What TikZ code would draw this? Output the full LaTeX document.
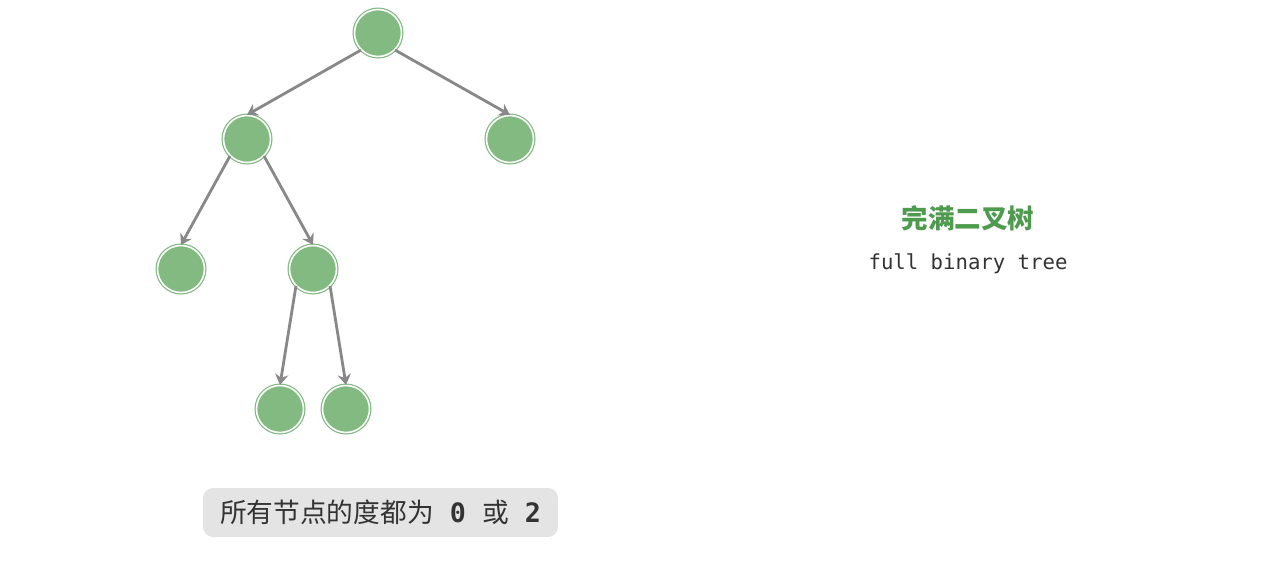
\documentclass[tikz,border=0pt]{standalone}
\usepackage{fontspec}
\setmonofont{DejaVu Sans Mono}
\newfontfamily\cjk{Noto Sans CJK SC}
\usepackage{xcolor}
\usetikzlibrary{positioning,arrows.meta}
\definecolor{nodegreen}{HTML}{82BA82}
\definecolor{titlegreen}{HTML}{4E9A4E}
\definecolor{edgegray}{HTML}{888888}
\definecolor{boxgray}{HTML}{E4E4E4}
\definecolor{txt}{HTML}{333333}

\begin{document}
\begin{tikzpicture}[x=0.02cm, y=-0.02cm,
		treenode/.style={circle, minimum size=0.94cm, inner sep=0, fill=nodegreen, draw=nodegreen, double=white, double distance=0.9pt, line width=0.7pt},
		treeedge/.style={-{Stealth[length=6pt, width=7.5pt, inset=2pt]}, edgegray, line width=1.6pt}]
	\useasboundingbox (0,0) rectangle (1280,579);
	% tree
	\node[treenode] (root) at (378,33) {};
	\node[treenode] (l) at (247,139) {};
	\node[treenode] (r) at (510,139) {};
	\node[treenode] (ll) at (181,269) {};
	\node[treenode] (lr) at (313,269) {};
	\node[treenode] (lrl) at (280,409) {};
	\node[treenode] (lrr) at (346,409) {};
	\draw[treeedge] (root.south west) -- (l.north);
	\draw[treeedge] (root.south east) -- (r.north);
	\draw[treeedge] (l.south west) -- (ll.north);
	\draw[treeedge] (l.south east) -- (lr.north);
	\draw[treeedge] (lr.south west) -- (lrl.north);
	\draw[treeedge] (lr.south east) -- (lrr.north);
	% label
	\node[fill=boxgray, rounded corners=0.2cm, minimum width=7.1cm, minimum height=0.98cm, text=txt] (degree) at (380.5,512.5)
		{\cjk\fontsize{15.2pt}{17pt}\selectfont 所有节点的度都为\texttt{\bfseries\ 0\ }或\texttt{\bfseries\ 2}};
	% title
	\node[text=titlegreen] (title) at (968,218) {\cjk\bfseries\fontsize{15.1pt}{17pt}\selectfont 完满二叉树};
	\node[text=txt, below=0.22cm of title] (subtitle) {\ttfamily\fontsize{11.75pt}{13pt}\selectfont full binary tree};
\end{tikzpicture}
\end{document}
